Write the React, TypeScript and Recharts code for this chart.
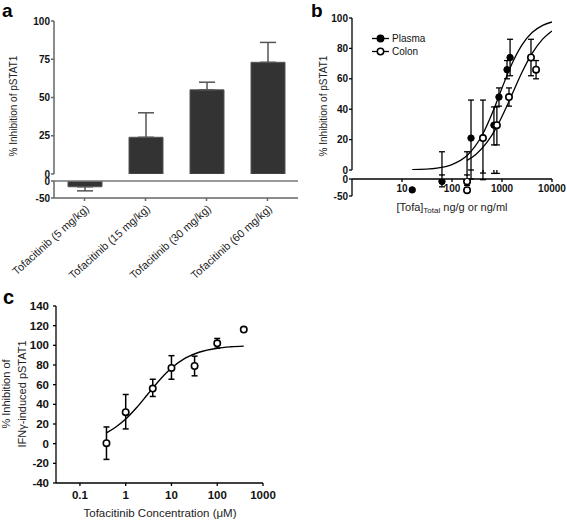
import React from 'react';
import { Bar, BarChart, ComposedChart, ErrorBar, Legend, Line, ReferenceLine, Scatter, XAxis, YAxis } from 'recharts';

const FONT = '"Liberation Sans", Arial, Helvetica, sans-serif';

// ---- panel a: dose groups ----
const doseLabels = ['Tofacitinib (5 mg/kg)', 'Tofacitinib (15 mg/kg)', 'Tofacitinib (30 mg/kg)', 'Tofacitinib (60 mg/kg)'];
const doseInhibition = [-17, 24, 55, 73];
const doseSem = [12, 16, 5, 13];
const aUpperTicks = [0, 25, 50, 75, 100];
const aLowerTicks = [-50, 0];

// ---- panel b: exposure response ----
const plasmaConc = [16, 63, 240, 690, 870, 1260, 1450];
const plasmaInh = [-32, -7, 21, 29.5, 48, 66, 74];
const plasmaErr: [number, number][] = [[4, 4], [16, 19], [21, 25], [13, 12], [6, 6], [6, 6], [12, 12]];
const colonConc = [200, 200, 416, 790, 1380, 3800, 4800];
const colonInh = [-7, -33, 21, 29.5, 48, 74, 66];
const colonErr: [number, number][] = [[12, 19], [4, 4], [23, 25], [13, 12], [6, 6], [12, 12], [6, 6]];
const plasmaFitConc = [16, 50, 100, 200, 400, 700, 1000, 1500, 2500, 4000, 6500, 10000];
const plasmaFit = [0.2, 1.3, 3.6, 9.5, 22.9, 40.7, 53.9, 68.3, 82.2, 90.4, 95.1, 97.4];
const colonFitConc = [200, 300, 500, 800, 1200, 1800, 2500, 4000, 6500, 10000];
const colonFit = [6.3, 10.2, 18.1, 28.9, 40.8, 53.8, 64.1, 76.7, 86.1, 91.5];
const bUpperTicks = [0, 20, 40, 60, 80, 100];
const bLowerTicks = [-50, 0];
const bConcTicks = [10, 100, 1000, 10000];
const bLegendItems = [{ name: 'Plasma', filled: true }, { name: 'Colon', filled: false }];

// ---- panel c: in vitro ----
const cConc = [0.38, 1, 3.9, 10, 32, 100, 380];
const cInh = [0.5, 32, 56, 77, 79, 102, 116];
const cErr: ([number, number] | null)[] = [[16.5, 16.5], [17, 18], [8, 9.5], [11.5, 12.5], [10, 10], [5, 5], null];
const cFitConc = [0.38, 0.6, 1, 1.7, 3, 5, 10, 20, 40, 100, 200, 380];
const cFit = [11, 16.7, 25, 36.2, 50, 62.5, 76.9, 87, 93, 97.1, 98.5, 99.2];
const cYTicks = [-40, -20, 0, 20, 40, 60, 80, 100, 120, 140];
const cConcTicks = [0.1, 1, 10, 100, 1000];

// split the bars over the broken axis
const aUpperRows = doseLabels.map((name, i) => ({
  name,
  v: Math.max(doseInhibition[i], 0),
  e: doseInhibition[i] >= 0 ? [0, doseSem[i]] : null,
}));
const aLowerRows = doseLabels.map((name, i) => ({
  name,
  v: Math.min(doseInhibition[i], 0),
  e: doseInhibition[i] < 0 ? [doseSem[i], 0] : null,
}));

const plasmaRows = plasmaConc.map((x, i) => ({ x, y: plasmaInh[i], e: plasmaErr[i] }));
const colonRows = colonConc.map((x, i) => ({ x, y: colonInh[i], e: colonErr[i] }));
const plasmaFitRows = plasmaFitConc.map((x, i) => ({ x, y: plasmaFit[i] }));
const colonFitRows = colonFitConc.map((x, i) => ({ x, y: colonFit[i] }));
const cRows = cConc.map((x, i) => ({ x, y: cInh[i], e: cErr[i] }));
const cFitRows = cFitConc.map((x, i) => ({ x, y: cFit[i] }));

const greyAxis = { stroke: '#666', strokeWidth: 1.5 };
const blackAxis = { stroke: '#000', strokeWidth: 1.3 };
const boldTick = { fill: '#111', fontSize: 10, fontWeight: 700 };
const boldTickC = { fill: '#111', fontSize: 11.5, fontWeight: 700 };
const doseTick = { fill: '#222', fontSize: 11, angle: -42, textAnchor: 'end' };

const filledDot = (p: any) => <circle cx={p.cx} cy={p.cy} r={3.2} fill="#000" stroke="#000" strokeWidth={1} />;
const openDot = (p: any) => <circle cx={p.cx} cy={p.cy} r={3.2} fill="#fff" stroke="#000" strokeWidth={1.6} />;

function BLegend() {
  return (
    <div style={{ fontSize: 10, color: '#111', fontFamily: FONT }}>
      {bLegendItems.map((it) => (
        <div key={it.name} style={{ display: 'flex', alignItems: 'center', height: 13 }}>
          <svg width={17} height={9} style={{ marginRight: 3 }}>
            <line x1={0} y1={4.5} x2={17} y2={4.5} stroke="#000" strokeWidth={1.3} />
            <circle cx={8.5} cy={4.5} r={3.2} fill={it.filled ? '#000' : '#fff'} stroke="#000" strokeWidth={1.5} />
          </svg>
          <span>{it.name}</span>
        </div>
      ))}
    </div>
  );
}

export default function App() {
  return (
    <div style={{ position: 'absolute', left: 0, top: 0, width: 567, height: 521, background: '#fff', fontFamily: FONT, overflow: 'hidden' }}>
      {/* a, upper segment */}
      <div style={{ position: 'absolute', left: 0, top: 0 }}>
        <BarChart width={299} height={180} data={aUpperRows} margin={{ top: 21, right: 1, bottom: 6, left: 0 }} barSize={34}>
          <XAxis dataKey="name" hide />
          <YAxis domain={[0, 100]} ticks={aUpperTicks} allowDataOverflow interval={0} width={54} axisLine={greyAxis} tickLine={greyAxis} tickSize={3} tickMargin={1} tick={boldTick} />
          <Bar dataKey="v" fill="#333" stroke="#555" isAnimationActive={false}>
            <ErrorBar dataKey="e" direction="y" width={8} stroke="#555" strokeWidth={1.5} />
          </Bar>
        </BarChart>
      </div>
      {/* a, lower segment */}
      <div style={{ position: 'absolute', left: 0, top: 170 }}>
        <BarChart width={299} height={130} data={aLowerRows} margin={{ top: 11, right: 1, bottom: 0, left: 0 }} barSize={34}>
          <XAxis dataKey="name" height={102} interval={0} axisLine={greyAxis} tickLine={greyAxis} tickSize={3} tickMargin={3} tick={doseTick} />
          <YAxis domain={[-50, 0]} ticks={aLowerTicks} allowDataOverflow interval={0} width={54} axisLine={greyAxis} tickLine={greyAxis} tickSize={3} tickMargin={1} tick={boldTick} />
          <ReferenceLine y={0} stroke="#777" strokeWidth={1.5} />
          <Bar dataKey="v" fill="#333" stroke="#555" isAnimationActive={false}>
            <ErrorBar dataKey="e" direction="y" width={8} stroke="#555" strokeWidth={1.5} />
          </Bar>
        </BarChart>
      </div>

      {/* b, upper segment */}
      <div style={{ position: 'absolute', left: 290, top: 0 }}>
        <ComposedChart width={277} height={176} margin={{ top: 18, right: 15, bottom: 6, left: 0 }}>
          <XAxis type="number" dataKey="x" scale="log" domain={[1, 10000]} allowDataOverflow hide />
          <YAxis type="number" domain={[0, 100]} ticks={bUpperTicks} allowDataOverflow interval={0} width={62} axisLine={blackAxis} tickLine={blackAxis} tickSize={3} tickMargin={1} tick={boldTick} />
          <Legend layout="vertical" align="center" verticalAlign="middle" wrapperStyle={{ left: 82, top: 31.5, width: 90 }} content={() => <BLegend />} />
          <Line data={plasmaFitRows} dataKey="y" type="monotone" dot={false} stroke="#000" strokeWidth={1.3} isAnimationActive={false} legendType="none" />
          <Line data={colonFitRows} dataKey="y" type="monotone" dot={false} stroke="#000" strokeWidth={1.3} isAnimationActive={false} legendType="none" />
          <Scatter data={plasmaRows} dataKey="y" shape={filledDot} isAnimationActive={false}>
            <ErrorBar dataKey="e" direction="y" width={3} stroke="#000" strokeWidth={1.3} />
          </Scatter>
          <Scatter data={colonRows} dataKey="y" shape={openDot} isAnimationActive={false}>
            <ErrorBar dataKey="e" direction="y" width={3} stroke="#000" strokeWidth={1.3} />
          </Scatter>
        </ComposedChart>
      </div>
      {/* b, lower segment */}
      <div style={{ position: 'absolute', left: 290, top: 170 }}>
        <ComposedChart width={277} height={50} margin={{ top: 9, right: 15, bottom: 24, left: 0 }}>
          <XAxis type="number" dataKey="x" scale="log" domain={[1, 10000]} allowDataOverflow orientation="top" mirror ticks={bConcTicks} interval={0} axisLine={blackAxis} tickLine={blackAxis} tickSize={3} tickMargin={3} tick={boldTick} />
          <YAxis type="number" domain={[-50, 0]} ticks={bLowerTicks} allowDataOverflow interval={0} width={62} axisLine={blackAxis} tickLine={blackAxis} tickSize={3} tickMargin={1} tick={boldTick} />
          <Scatter data={plasmaRows} dataKey="y" shape={filledDot} isAnimationActive={false}>
            <ErrorBar dataKey="e" direction="y" width={3} stroke="#000" strokeWidth={1.3} />
          </Scatter>
          <Scatter data={colonRows} dataKey="y" shape={openDot} isAnimationActive={false}>
            <ErrorBar dataKey="e" direction="y" width={3} stroke="#000" strokeWidth={1.3} />
          </Scatter>
        </ComposedChart>
      </div>

      {/* c */}
      <div style={{ position: 'absolute', left: 0, top: 290 }}>
        <ComposedChart width={290} height={231} margin={{ top: 16, right: 27, bottom: 0, left: 0 }}>
          <XAxis type="number" dataKey="x" scale="log" domain={[0.03, 1000]} allowDataOverflow ticks={cConcTicks} interval={0} height={38} axisLine={blackAxis} tickLine={blackAxis} tickSize={3} tickMargin={5} tick={boldTickC} tickFormatter={(v: number) => String(v)} />
          <YAxis type="number" domain={[-40, 140]} ticks={cYTicks} allowDataOverflow interval={0} width={56} axisLine={blackAxis} tickLine={blackAxis} tickSize={3} tickMargin={4} tick={boldTickC} />
          <Line data={cFitRows} dataKey="y" type="monotone" dot={false} stroke="#000" strokeWidth={1.4} isAnimationActive={false} />
          <Scatter data={cRows} dataKey="y" shape={openDot} isAnimationActive={false}>
            <ErrorBar dataKey="e" direction="y" width={3} stroke="#000" strokeWidth={1.5} />
          </Scatter>
        </ComposedChart>
      </div>

      {/* panel letters and axis titles */}
      <svg width={567} height={521} style={{ position: 'absolute', left: 0, top: 0, pointerEvents: 'none' }} fontFamily={FONT}>
        <text x={2} y={17} fontSize={19} fontWeight={700} fill="#000">a</text>
        <text x={311} y={17} fontSize={19} fontWeight={700} fill="#000">b</text>
        <text x={3} y={304} fontSize={20} fontWeight={700} fill="#000">c</text>
        <text transform="translate(16.5,106) rotate(-90)" textAnchor="middle" fontSize={10} fill="#222">% Inhibition of pSTAT1</text>
        <text transform="translate(326.5,106) rotate(-90)" textAnchor="middle" fontSize={10} fill="#222">% Inhibition of pSTAT1</text>
        <text x={452} y={211} textAnchor="middle" fontSize={11} fill="#222">
          [Tofa]<tspan fontSize={8} dy={2}>Total</tspan><tspan dy={-2}> ng/g or ng/ml</tspan>
        </text>
        <text transform="translate(9.5,394) rotate(-90)" textAnchor="middle" fontSize={11} fill="#222">% Inhibition of</text>
        <text transform="translate(25.5,394) rotate(-90)" textAnchor="middle" fontSize={11} fill="#222">IFNγ-induced pSTAT1</text>
        <text x={160} y={517} textAnchor="middle" fontSize={11.5} fill="#222">Tofacitinib Concentration (μM)</text>
      </svg>
    </div>
  );
}
